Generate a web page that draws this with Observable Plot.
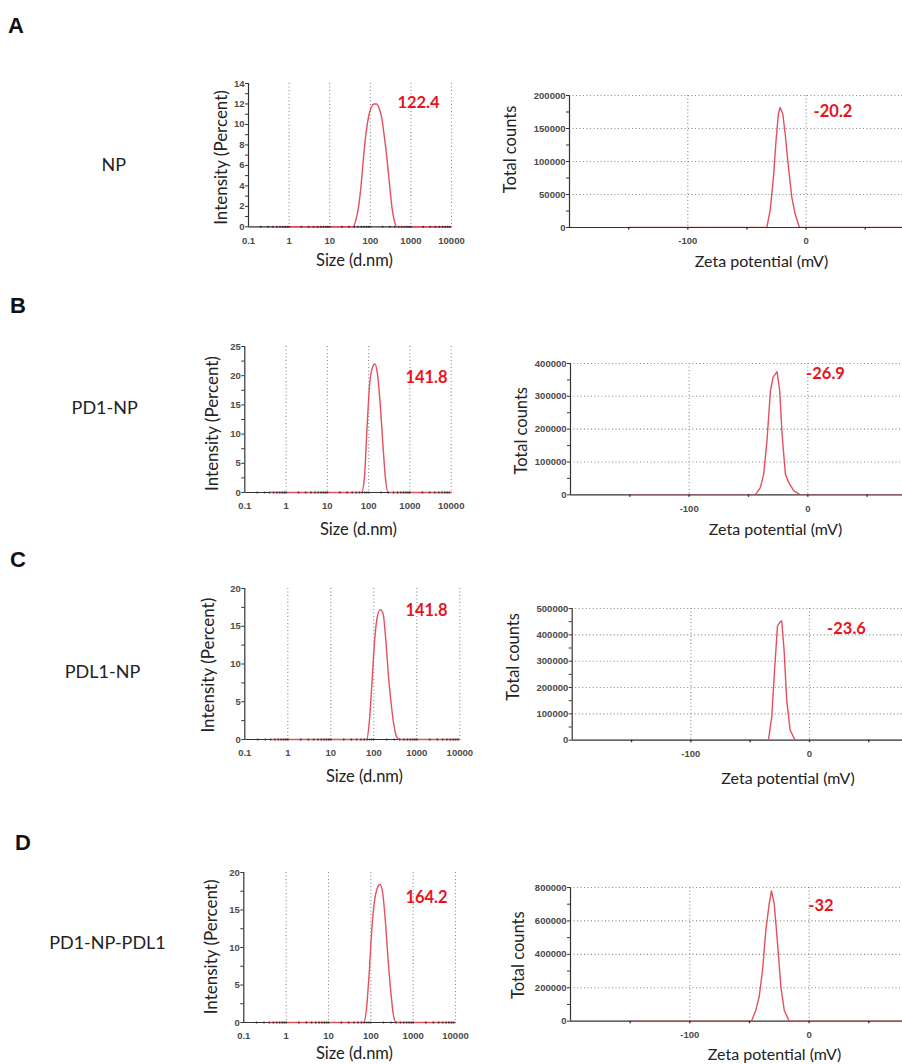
<!DOCTYPE html>
<html>
<head>
<meta charset="utf-8">
<script src="https://cdn.jsdelivr.net/npm/d3@7"></script>
<script src="https://cdn.jsdelivr.net/npm/@observablehq/plot@0.6"></script>
<style>
  body { margin: 0; background: #fff; }
  #fig { position: relative; width: 902px; height: 1064px; overflow: hidden; background: #fff; }
  #fig svg { position: absolute; }
</style>
</head>
<body>
<div id="fig"></div>
<script>
// ---------------- DATA ----------------
const panelLetters = ["A", "B", "C", "D"];
const samples = ["NP", "PD1-NP", "PDL1-NP", "PD1-NP-PDL1"];
const sizePeakLabels = ["122.4", "141.8", "141.8", "164.2"];
const zetaPeakLabels = ["-20.2", "-26.9", "-23.6", "-32"];

// DLS size bins (d.nm)
const sizeBins = [0.4, 37.84, 43.82, 50.75, 58.77, 68.06, 78.82, 91.28, 105.7, 122.4, 141.8, 164.2, 190.1, 220.2, 255.0, 295.3, 342.0, 396.1, 458.7, 10000];
// Intensity (Percent) per sample at those bins
const intensityNP        = [0, 0, 0.6, 1.8, 3.9, 6.8, 9.2, 10.8, 11.7, 12.0, 12.0, 11.6, 10.7, 8.9, 6.8, 4.3, 1.9, 0.5, 0, 0];
const intensityPD1NP     = [0, 0, 0, 0, 0, 0, 2.5, 11.0, 18.5, 21.3, 22.0, 20.2, 15.3, 8.5, 2.5, 0, 0, 0, 0, 0];
const intensityPDL1NP    = [0, 0, 0, 0, 0, 0, 2.4, 7.8, 13.5, 16.4, 17.2, 16.7, 13.2, 8.3, 4.6, 1.8, 0.3, 0, 0, 0];
const intensityPD1NPPDL1 = [0, 0, 0, 0, 0, 0, 1.8, 6.5, 12.5, 16.2, 17.9, 18.4, 17.3, 13.6, 8.5, 4.2, 1.0, 0, 0, 0];
const intensities = [intensityNP, intensityPD1NP, intensityPDL1NP, intensityPD1NPPDL1];

// Zeta potential (mV) and total counts per sample
const zetaNP        = [-150, -33.2, -30.4, -27.6, -25.4, -23.4, -22.0, -19.7, -17.7, -14.9, -12.1, -9.3, -5.6, 150];
const countsNP      = [0, 0, 25800, 76000, 132000, 172000, 182000, 172000, 142000, 91000, 46000, 20700, 0, 0];
const zetaPD1NP     = [-150, -44.2, -40.0, -37.2, -34.4, -31.5, -29.3, -25.9, -23.7, -21.7, -18.9, -16.1, -11.8, -6.2, 150];
const countsPD1NP   = [0, 0, 22000, 63000, 165000, 317000, 358000, 375000, 317000, 185000, 63000, 37600, 12000, 0, 0];
const zetaPDL1NP    = [-150, -34.6, -31.8, -29.6, -27.0, -24.8, -23.4, -21.4, -19.2, -16.3, -12.1, 150];
const countsPDL1NP  = [0, 0, 88600, 253000, 433000, 449000, 453000, 342000, 152000, 38000, 0, 0];
const zetaPD1NPPDL1   = [-150, -48.3, -44.7, -41.9, -39.1, -36.3, -33.5, -31.6, -29.3, -26.5, -23.7, -20.9, -16.8, 150];
const countsPD1NPPDL1 = [0, 0, 66000, 146000, 305000, 545000, 704000, 780000, 704000, 465000, 205000, 66000, 0, 0];
const zetas = [zetaNP, zetaPD1NP, zetaPDL1NP, zetaPD1NPPDL1];
const counts = [countsNP, countsPD1NP, countsPDL1NP, countsPD1NPPDL1];

// Tick values
const sizeDecades = [0.1, 1, 10, 100, 1000, 10000];
const logMinorSteps = [2, 3, 4, 5, 6, 7, 8, 9];
const intensityMajor = [[0, 2, 4, 6, 8, 10, 12, 14], [0, 5, 10, 15, 20, 25], [0, 5, 10, 15, 20], [0, 5, 10, 15, 20]];
const intensityMinor = [[1, 3, 5, 7, 9, 11, 13], [2.5, 7.5, 12.5, 17.5, 22.5], [2.5, 7.5, 12.5, 17.5], [2.5, 7.5, 12.5, 17.5]];
const countsMajor = [
  [0, 50000, 100000, 150000, 200000],
  [0, 100000, 200000, 300000, 400000],
  [0, 100000, 200000, 300000, 400000, 500000],
  [0, 200000, 400000, 600000, 800000]
];
const countsMinor = [
  [25000, 75000, 125000, 175000],
  [50000, 150000, 250000, 350000],
  [50000, 150000, 250000, 350000, 450000],
  [100000, 300000, 500000, 700000]
];
const zetaTickMarks = [-150, -100, -50, 0, 50];
const zetaLabelTicks = [-100, 0];
const zetaGrid = [-100, 0];

// ---------------- LAYOUT (pixel geometry of the figure) ----------------
const leftFrames = [
  {x0: 248, x1: 451, y0: 82.7, y1: 226, xt: [354, 260], yt: [220.7, 156.7], lab: [418, 102]},
  {x0: 244.3, x1: 450.7, y0: 345.7, y1: 491.7, xt: [358, 529], yt: [211.7, 422.7], lab: [426, 376.7]},
  {x0: 244.3, x1: 459.3, y0: 588.3, y1: 739.3, xt: [364, 776.7], yt: [208.3, 665], lab: [426, 610.7]},
  {x0: 243.3, x1: 455, y0: 872.3, y1: 1022.3, xt: [354, 1054], yt: [211, 946.7], lab: [426, 898]}
];
const rightFrames = [
  {x0: 569, y0: 95, y1: 227, xmax: 81.5, xt: [761, 261.7], yt: [510, 149], lab: [832.5, 111.7]},
  {x0: 570, y0: 362.7, y1: 494, xmax: 79.8, xt: [775, 529.3], yt: [521.7, 430], lab: [825, 373]},
  {x0: 571.7, y0: 608.3, y1: 740, xmax: 78.4, xt: [787.5, 778.3], yt: [513, 656.7], lab: [846, 629]},
  {x0: 570, y0: 887.3, y1: 1021, xmax: 78.2, xt: [774, 1055], yt: [518, 955], lab: [820.5, 906]}
];
const letterPos = [[8, 33], [10, 313], [10, 566.7], [15, 850]];
const samplePos = [[113.8, 163.7], [104.7, 406.7], [102.5, 670.5], [107.5, 941.5]];

const RED_LINE = "#e4505c";
const RED_TEXT = "#e8141c";
const AXIS = "#333";
const TICK_TEXT = "#4a4a4a";
const GRID = "#8a8a8a";
const TITLE_FONT = "Lato, 'Open Sans', sans-serif";
const TICK_FONT = "'Liberation Sans', Arial, sans-serif";

const fig = document.getElementById("fig");

function place(svg, left, top) {
  svg.style.left = left + "px";
  svg.style.top = top + "px";
  fig.appendChild(svg);
}

function titleText(str, F, pos, rotate, size) {
  return Plot.text([str], {
    frameAnchor: "top-left",
    dx: pos[0] - F.x0, dy: pos[1] - F.y0,
    text: d => d, rotate: rotate || 0,
    fontFamily: TITLE_FONT, fontSize: size || 16, fill: "#222", textAnchor: "middle", lineAnchor: "middle"
  });
}

function peakLabel(str, F) {
  return Plot.text([str], {
    frameAnchor: "top-left",
    dx: F.lab[0] - F.x0, dy: F.lab[1] - F.y0,
    text: d => d,
    fontFamily: TITLE_FONT, fontSize: 16.5, fontWeight: "bold", fill: RED_TEXT,
    textAnchor: "middle", lineAnchor: "middle"
  });
}

const tickTextOpts = {fill: TICK_TEXT, fontWeight: "bold", fontSize: 9.5};

// ---------------- SIZE (DLS) CHARTS ----------------
function sizeChart(i) {
  const F = leftFrames[i];
  const svgLeft = 185, W = 295, mt = 40, mb = 50;
  const H = (F.y1 - F.y0) + mt + mb;
  const data = sizeBins.map((s, k) => ({size: s, pct: intensities[i][k]}));
  const minorX = [];
  sizeDecades.slice(0, -1).forEach(d => logMinorSteps.forEach(m => minorX.push(d * m)));
  const axisDots = minorX.concat(sizeDecades.slice(1, -1));
  const yMax = intensityMajor[i][intensityMajor[i].length - 1];

  const svg = Plot.plot({
    width: W, height: H,
    marginLeft: F.x0 - svgLeft, marginRight: svgLeft + W - F.x1,
    marginTop: mt, marginBottom: mb,
    style: {background: "transparent", fontFamily: TICK_FONT, fontSize: "9.5px", color: AXIS, overflow: "visible"},
    x: {type: "log", domain: [0.1, 10000]},
    y: {domain: [0, yMax]},
    marks: [
      Plot.ruleX(sizeDecades.slice(1), {stroke: GRID, strokeDasharray: "1,2.5", strokeWidth: 1.1}),
      Plot.ruleY([0], {stroke: AXIS, strokeWidth: 1.2}),
      Plot.ruleX([0.1], {stroke: AXIS, strokeWidth: 1.2}),
      Plot.axisY(intensityMajor[i], {tickSize: 3, tickPadding: 1, label: null, tickFormat: d => String(d), stroke: AXIS, ...tickTextOpts}),
      Plot.axisY(intensityMinor[i], {tickSize: 3, fill: "none", stroke: AXIS}),
      Plot.axisX(sizeDecades, {tickSize: 0, tickPadding: 10, label: null, tickFormat: d => String(d), ...tickTextOpts}),
      Plot.line(data, {x: "size", y: "pct", stroke: RED_LINE, strokeWidth: 1.4, curve: "monotone-x"}),
      Plot.dot(axisDots, {x: d => d, y: () => 0, r: 1, fill: "#333", stroke: "none"}),
      peakLabel(sizePeakLabels[i], F),
      titleText("Size (d.nm)", F, F.xt, 0, 16.5),
      titleText("Intensity (Percent)", F, F.yt, -90, 17)
    ]
  });
  place(svg, svgLeft, F.y0 - mt);
}

// ---------------- ZETA CHARTS ----------------
function zetaChart(i) {
  const F = rightFrames[i];
  const svgLeft = 470, W = 432, mt = 30, mb = 50;
  const H = (F.y1 - F.y0) + mt + mb;
  const data = zetas[i].map((z, k) => ({zeta: z, count: counts[i][k]}));
  const yMax = countsMajor[i][countsMajor[i].length - 1];

  const svg = Plot.plot({
    width: W, height: H,
    marginLeft: F.x0 - svgLeft, marginRight: 0,
    marginTop: mt, marginBottom: mb,
    style: {background: "transparent", fontFamily: TICK_FONT, fontSize: "9.5px", color: AXIS, overflow: "visible"},
    x: {domain: [-200, F.xmax]},
    y: {domain: [0, yMax]},
    marks: [
      Plot.ruleY(countsMajor[i].slice(1), {stroke: GRID, strokeDasharray: "1,2.5", strokeWidth: 1.1}),
      Plot.ruleX(zetaGrid, {stroke: GRID, strokeDasharray: "1,2.5", strokeWidth: 1.1}),
      Plot.ruleY([0], {stroke: AXIS, strokeWidth: 1.2}),
      Plot.ruleX([-200], {stroke: AXIS, strokeWidth: 1.2}),
      Plot.axisY(countsMajor[i], {tickSize: 3, tickPadding: 1, label: null, tickFormat: d => String(d), stroke: AXIS, ...tickTextOpts}),
      Plot.axisY(countsMinor[i], {tickSize: 3, fill: "none", stroke: AXIS}),
      Plot.axisX(zetaLabelTicks, {tickSize: 0, tickPadding: 10, label: null, tickFormat: d => String(d), ...tickTextOpts}),
      Plot.line(data, {x: "zeta", y: "count", stroke: RED_LINE, strokeWidth: 1.4, clip: true}),
      Plot.axisX(zetaTickMarks, {tickSize: 2.5, fill: "none", stroke: AXIS, strokeWidth: 1.4}),
      peakLabel(zetaPeakLabels[i], F),
      titleText("Zeta potential (mV)", F, F.xt, 0, 16),
      titleText("Total counts", F, F.yt, -90, 16.5)
    ]
  });
  place(svg, svgLeft, F.y0 - mt);
}

for (let i = 0; i < 4; i++) { sizeChart(i); zetaChart(i); }

// ---------------- PANEL LETTERS & SAMPLE NAMES ----------------
const overlay = d3.create("svg")
  .attr("width", 190).attr("height", 1064)
  .style("left", "0px").style("top", "0px");
overlay.selectAll("text.letter").data(panelLetters).join("text")
  .attr("class", "letter")
  .attr("x", (d, k) => letterPos[k][0]).attr("y", (d, k) => letterPos[k][1])
  .attr("font-family", "'Liberation Sans', Arial, sans-serif")
  .attr("font-weight", "bold").attr("font-size", 22).attr("fill", "#111")
  .text(d => d);
overlay.selectAll("text.sample").data(samples).join("text")
  .attr("class", "sample")
  .attr("x", (d, k) => samplePos[k][0]).attr("y", (d, k) => samplePos[k][1])
  .attr("text-anchor", "middle").attr("dominant-baseline", "central")
  .attr("font-family", TITLE_FONT).attr("font-size", 18).attr("fill", "#222")
  .text(d => d);
fig.appendChild(overlay.node());
</script>
</body>
</html>
